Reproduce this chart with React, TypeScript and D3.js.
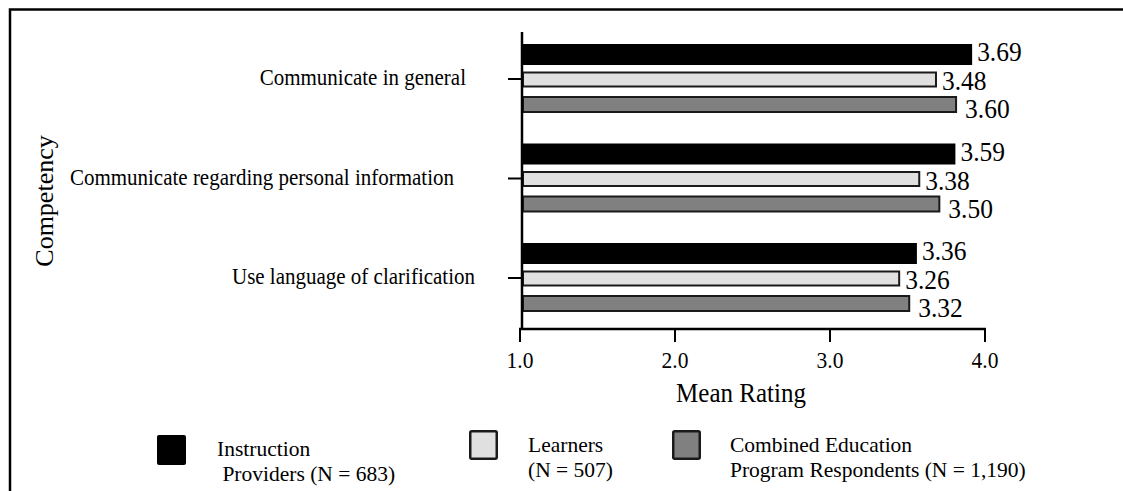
import * as d3 from 'd3';

// competencies, top to bottom
const categories = [
  'Communicate in general',
  'Communicate regarding personal information',
  'Use language of clarification',
];

const seriesKeys = ['providers', 'learners', 'combined'];

// mean ratings per series, same order as categories
const providers = [3.69, 3.59, 3.36];
const learners = [3.48, 3.38, 3.26];
const combined = [3.6, 3.5, 3.32];
const seriesValues = [providers, learners, combined];

const xTicks = [1, 2, 3, 4];

const legendLines = [
  ['Instruction', '\u00a0Providers (N = 683)'],
  ['Learners', '(N = 507)'],
  ['Combined Education', 'Program Respondents (N = 1,190)'],
];

const FONT = '"Liberation Serif", "Times New Roman", Times, serif';
// the source's type is a little taller than it is wide
const STRETCH = 1.1;

// look of each series: bar thickness, fill, stroke, label nudges
const seriesStyle = [
  { fill: '#000', stroke: '#000', thick: 21, labelDx: 5, labelDy: 6.5 },
  { fill: '#e0e0e0', stroke: '#1a1a1a', thick: 16, labelDx: 5, labelDy: 10.5 },
  { fill: '#808080', stroke: '#1a1a1a', thick: 17, labelDx: 8, labelDy: 13.5 },
];

// legend layout (square box + text start)
const legendLayout = [
  { bx: 157, by: 435, tx: 217, ty: 456 },
  { bx: 469, by: 430, tx: 528, ty: 452 },
  { bx: 672, by: 430, tx: 730, ty: 452 },
];

// small nudges for the category labels so they sit like the original
const catLabelDx = [0, -12, 9];

const Txt = ({ x, y, size, anchor = 'start', stretch = STRETCH, children }: any) => (
  <text
    transform={`translate(${x},${y}) scale(1,${stretch})`}
    textAnchor={anchor}
    fontSize={size}
    fill='#000'
  >
    {children}
  </text>
);

const App = () => {
  const width = 1123;
  const height = 491;

  // the axis and the bars in the source use slightly different spacing
  const xAxisScale = d3.scaleLinear().domain([1, 4]).range([520, 985]);
  const xBarScale = d3.scaleLinear().domain([1, 4]).range([522, 1024]);

  const yScale = d3.scalePoint<string>().domain(categories).range([79, 278]);
  const inner = d3.scalePoint<string>().domain(seriesKeys).range([-24.5, 25.5]);

  const axisY = 329;
  const axisX = 522;
  const fmt = d3.format('.1f');
  const fmt2 = d3.format('.2f');

  return (
    <svg
      width={width}
      height={height}
      style={{ position: 'absolute', left: 0, top: 0, background: '#fff' }}
      fontFamily={FONT}
    >
      {/* frame, cut off at the right and bottom like the source */}
      <rect x={10} y={9.5} width={1300} height={700} fill='none' stroke='#000' strokeWidth={2.5} />

      {/* bars */}
      {categories.map((c, ci) => (
        <g key={c}>
          {seriesKeys.map((s, si) => {
            const st = seriesStyle[si];
            const v = seriesValues[si][ci];
            const cy = (yScale(c) as number) + (inner(s) as number);
            const x0 = xBarScale(1);
            const x1 = xBarScale(v);
            const sw = si === 0 ? 0 : 2;
            return (
              <g key={s}>
                <rect
                  x={x0 + sw / 2}
                  y={cy - st.thick / 2 + sw / 2}
                  width={x1 - x0 - sw}
                  height={st.thick - sw}
                  fill={st.fill}
                  stroke={sw ? st.stroke : 'none'}
                  strokeWidth={sw}
                />
                <Txt x={x1 + st.labelDx} y={cy + st.labelDy} size={25.5}>
                  {fmt2(v)}
                </Txt>
              </g>
            );
          })}
          <line
            x1={508}
            x2={axisX}
            y1={yScale(c)}
            y2={yScale(c)}
            stroke='#000'
            strokeWidth={2}
          />
          <Txt
            x={466 + catLabelDx[ci]}
            y={(yScale(c) as number) + 6}
            anchor='end'
            size={21}
          >
            {c}
          </Txt>
        </g>
      ))}

      {/* y axis */}
      <line x1={axisX} x2={axisX} y1={32} y2={axisY + 1} stroke='#000' strokeWidth={2.5} />

      {/* x axis */}
      <line x1={xAxisScale(1) - 1} x2={xAxisScale(4) + 1} y1={axisY} y2={axisY} stroke='#000' strokeWidth={2.5} />
      {xTicks.map((t) => (
        <g key={t}>
          <line
            x1={xAxisScale(t)}
            x2={xAxisScale(t)}
            y1={axisY}
            y2={axisY + 13}
            stroke='#000'
            strokeWidth={2}
          />
          <Txt x={xAxisScale(t)} y={axisY + 39} anchor='middle' size={21.5}>
            {fmt(t)}
          </Txt>
        </g>
      ))}
      <Txt x={741} y={402} anchor='middle' size={25}>
        Mean Rating
      </Txt>

      <text
        transform='translate(53,201) rotate(-90)'
        textAnchor='middle'
        fontSize={26}
      >
        Competency
      </text>

      {/* legend */}
      {legendLayout.map((l, i) => {
        const st = seriesStyle[i];
        const sw = i === 0 ? 0 : 2.5;
        return (
          <g key={i}>
            <rect
              x={l.bx + sw / 2}
              y={l.by + sw / 2}
              width={29 - sw}
              height={30 - sw}
              rx={i === 0 ? 2 : 1.5}
              fill={st.fill}
              stroke={sw ? st.stroke : 'none'}
              strokeWidth={sw}
            />
            <Txt x={l.tx} y={l.ty} size={21.5} stretch={1}>
              {legendLines[i][0]}
            </Txt>
            <Txt x={l.tx} y={l.ty + 25} size={21.5} stretch={1}>
              {legendLines[i][1]}
            </Txt>
          </g>
        );
      })}
    </svg>
  );
};

export default App;
